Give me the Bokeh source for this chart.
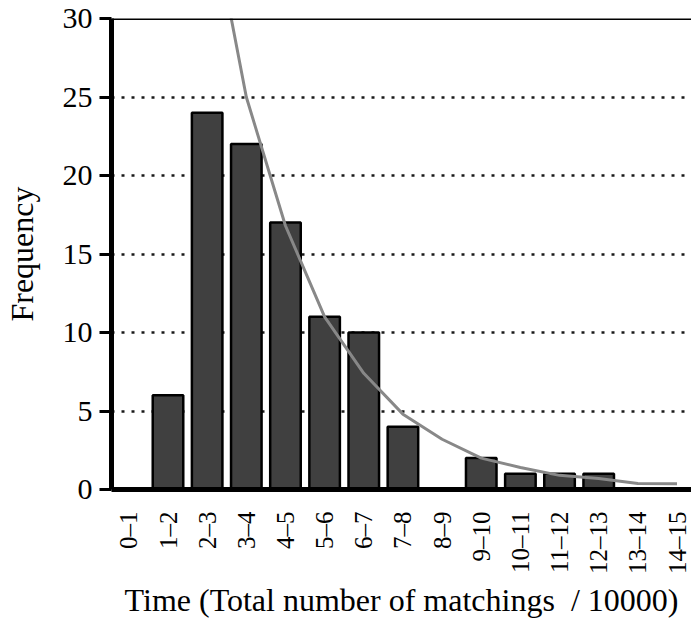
import math
from bokeh.plotting import figure
from bokeh.models import Range1d, FixedTicker, ColumnDataSource, Span
from bokeh.embed import file_html
from bokeh.resources import INLINE

# ---- data ----
categories = ["0–1", "1–2", "2–3", "3–4", "4–5", "5–6", "6–7", "7–8",
              "8–9", "9–10", "10–11", "11–12", "12–13", "13–14", "14–15"]
frequency = [0, 6, 24, 22, 17, 11, 10, 4, 0, 2, 1, 1, 1, 0, 0]
# fitted curve (visible part), starting at category "2–3"
curve_categories = ["2–3", "3–4", "4–5", "5–6", "6–7", "7–8", "8–9",
                    "9–10", "10–11", "11–12", "12–13", "13–14", "14–15"]
curve_values = [38, 25, 16.8, 11.0, 7.4, 4.8, 3.2, 2.0, 1.4, 0.9, 0.7, 0.38, 0.36]
y_ticks = [0, 5, 10, 15, 20, 25, 30]
x_title = "Time (Total number of matchings \u00a0/ 10000)"
y_title = "Frequency"

FONT = "Liberation Serif"

idx = {c: i for i, c in enumerate(categories)}
bar_src = ColumnDataSource(dict(x=[idx[c] for c in categories], top=frequency))
curve_src = ColumnDataSource(dict(x=[idx[c] for c in curve_categories], y=curve_values))

p = figure(width=691, height=621,
           x_range=Range1d(-0.443, 14.37), y_range=Range1d(y_ticks[0], y_ticks[-1]),
           output_backend="svg", toolbar_location=None,
           min_border_left=103, min_border_right=0,
           min_border_top=18, min_border_bottom=0)
p.styles = {"margin-bottom": "-16px"}
p.outline_line_color = None
p.background_fill_color = "white"

# grid
p.xgrid.visible = False
p.ygrid.ticker = FixedTicker(ticks=y_ticks[1:])
p.ygrid.grid_line_color = "#1a1a1a"
p.ygrid.grid_line_width = 2.4
p.ygrid.grid_line_dash = "3 7"

# bars
p.vbar(x="x", top="top", width=0.78, bottom=0, source=bar_src,
       fill_color="#404040", line_color="black", line_width=2.5)

# curve
p.line(x="x", y="y", source=curve_src, line_color="#888888", line_width=3)

# top border line at the top of the value range
p.add_layout(Span(location=y_ticks[-1], dimension="width",
                  line_color="black", line_width=3))

# x axis
xa = p.xaxis[0]
xa.ticker = FixedTicker(ticks=list(range(len(categories))))
xa.major_label_overrides = {i: c for i, c in enumerate(categories)}
xa.major_label_orientation = math.pi / 2
xa.major_tick_line_color = None
xa.minor_tick_line_color = None
xa.axis_line_width = 5
xa.axis_line_color = "black"
xa.major_label_text_font = FONT
xa.major_label_text_font_size = "25px"
xa.major_label_text_color = "black"
xa.major_label_standoff = 16
xa.axis_label = x_title
xa.axis_label_text_font = FONT
xa.axis_label_text_font_size = "32px"
xa.axis_label_text_font_style = "normal"
xa.axis_label_text_color = "black"
xa.axis_label_standoff = 5

# y axis
ya = p.yaxis[0]
ya.ticker = FixedTicker(ticks=y_ticks)
ya.major_tick_out = 12
ya.major_tick_in = 0
ya.major_tick_line_width = 3
ya.major_tick_line_color = "black"
ya.minor_tick_line_color = None
ya.axis_line_width = 5
ya.axis_line_color = "black"
ya.major_label_text_font = FONT
ya.major_label_text_font_size = "30px"
ya.major_label_text_color = "black"
ya.major_label_standoff = 7
ya.axis_label = y_title
ya.axis_label_text_font = FONT
ya.axis_label_text_font_size = "32px"
ya.axis_label_text_font_style = "normal"
ya.axis_label_text_color = "black"
ya.axis_label_standoff = 20

open("out.html", "w").write(file_html(p, INLINE))
